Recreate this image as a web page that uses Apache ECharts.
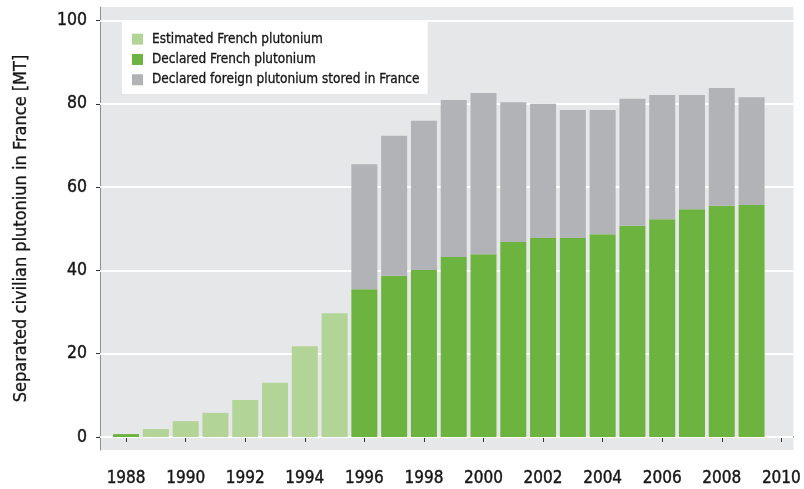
<!DOCTYPE html>
<html>
<head>
<meta charset="utf-8">
<script src="https://cdn.jsdelivr.net/npm/echarts@6/dist/echarts.min.js"></script>
<style>
  html, body { margin: 0; padding: 0; background: #fff; }
  #chart { width: 804px; height: 489px; }
</style>
</head>
<body>
<div id="chart"></div>
<script>
// years shown on the x axis (one bar per year)
const years = [1988, 1989, 1990, 1991, 1992, 1993, 1994, 1995, 1996, 1997, 1998,
  1999, 2000, 2001, 2002, 2003, 2004, 2005, 2006, 2007, 2008, 2009];
// values in MT, null where the series has no bar
const declared = [0.7, null, null, null, null, null, null, null, 35.5, 38.7, 40.1,
  43.2, 43.9, 46.8, 47.8, 47.8, 48.7, 50.7, 52.3, 54.7, 55.5, 55.7];
const estimated = [null, 1.9, 3.8, 5.8, 8.9, 13.0, 21.8, 29.7, null, null, null,
  null, null, null, null, null, null, null, null, null, null, null];
const foreign = [null, null, null, null, null, null, null, null, 30.0, 33.6, 35.8,
  37.7, 38.7, 33.6, 32.2, 30.7, 29.8, 30.5, 29.8, 27.4, 28.3, 25.9];
const xTicks = [1988, 1990, 1992, 1994, 1996, 1998, 2000, 2002, 2004, 2006, 2008, 2010];
const yTicks = [0, 20, 40, 60, 80, 100];

const FONT = "'DejaVu Sans Condensed', 'Liberation Sans Narrow', sans-serif";
const INK = '#161616';
// a thin outline in the text colour makes the labels a bit heavier, like the original
const heavy = { textBorderColor: INK, textBorderWidth: 0.4 };

// value first so the stack runs on y, year second (mapped to x by encode)
function pairs(vals) {
  return years.map((y, i) => [vals[i] == null ? 0 : vals[i], y]);
}

const chart = echarts.init(document.getElementById('chart'));

chart.setOption({
  animation: false,
  textStyle: { fontFamily: FONT },
  grid: {
    left: 100,
    right: 0,
    top: 7,
    bottom: 39,
    show: true,
    backgroundColor: '#e6e7e9',
    borderWidth: 0
  },
  legend: {
    orient: 'vertical',
    left: 122,
    top: 22,
    padding: [10, 8, 7, 10],
    backgroundColor: '#fff',
    itemWidth: 11,
    itemHeight: 11,
    itemGap: 6,
    icon: 'rect',
    textStyle: Object.assign({ fontSize: 13.5, color: INK, fontFamily: FONT, padding: [0, 0, 0, 4] }, heavy, { textBorderWidth: 0.3 }),
    data: ['Estimated French plutonium', 'Declared French plutonium', 'Declared foreign plutonium stored in France']
  },
  xAxis: {
    type: 'value',
    min: 1987.124,
    max: 2010.405,
    splitLine: { show: false },
    axisLine: { lineStyle: { color: '#333', width: 1.5 } },
    axisTick: { length: 5, lineStyle: { color: '#333' }, customValues: xTicks },
    axisLabel: Object.assign({
      customValues: xTicks,
      fontSize: 17,
      color: INK,
      margin: 20,
      fontFamily: FONT,
      formatter: v => String(v)
    }, heavy)
  },
  yAxis: {
    type: 'value',
    min: -3.12,
    max: 103.24,
    name: 'Separated civilian plutoniun in France [MT]',
    nameLocation: 'middle',
    nameGap: 70,
    nameTextStyle: Object.assign({ fontSize: 18, color: INK, fontFamily: FONT }, heavy, { textBorderWidth: 0.3 }),
    splitLine: { show: false },
    axisLine: { show: true, lineStyle: { color: '#8e8e8e', width: 1 } },
    axisTick: { show: true, length: 4, lineStyle: { color: '#333' }, customValues: yTicks },
    axisLabel: Object.assign({
      customValues: yTicks,
      fontSize: 17.5,
      color: INK,
      margin: 13,
      fontFamily: FONT
    }, heavy)
  },
  series: [
    {
      name: 'Declared French plutonium',
      type: 'bar',
      stack: 'pu',
      barWidth: 26,
      encode: { x: 1, y: 0 },
      itemStyle: { color: '#6db33f' },
      data: pairs(declared),
      markLine: {
        silent: true,
        symbol: 'none',
        z: 1,
        label: { show: false },
        lineStyle: { color: '#fff', width: 2, type: 'solid' },
        data: yTicks.map(v => ({ yAxis: v }))
      }
    },
    {
      name: 'Estimated French plutonium',
      type: 'bar',
      stack: 'pu',
      barWidth: 26,
      encode: { x: 1, y: 0 },
      itemStyle: { color: '#b2d496' },
      data: pairs(estimated)
    },
    {
      name: 'Declared foreign plutonium stored in France',
      type: 'bar',
      stack: 'pu',
      barWidth: 26,
      encode: { x: 1, y: 0 },
      itemStyle: { color: '#b2b3b7' },
      data: pairs(foreign)
    }
  ]
});
</script>
</body>
</html>
